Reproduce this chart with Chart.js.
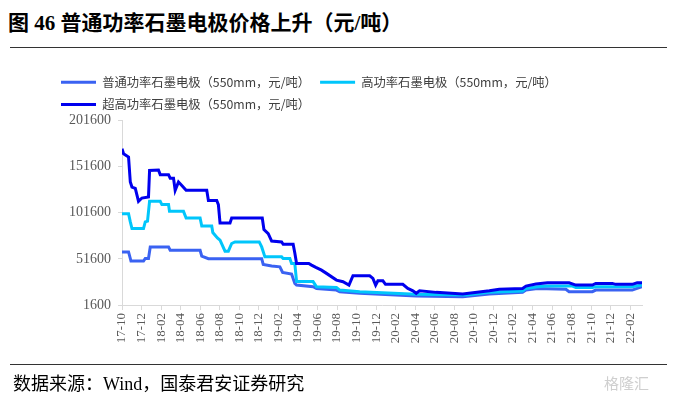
<!DOCTYPE html>
<html>
<head>
<meta charset="utf-8">
<script src="https://cdn.jsdelivr.net/npm/chart.js@4.4.1/dist/chart.umd.min.js"></script>
<style>
  body { margin: 0; background: #fff; }
  #wrap { position: relative; width: 673px; height: 398px; overflow: hidden; font-family: "Liberation Serif", "Noto Sans CJK SC", serif; }
  #title { position: absolute; left: 8px; top: 6px; font-size: 21px; font-weight: bold; color: #000; white-space: nowrap; }
  .rule { position: absolute; left: 10px; width: 657px; height: 1px; background: #333; }
  #source { position: absolute; left: 13px; top: 369px; font-size: 18px; color: #000; white-space: nowrap; }
  #mark { position: absolute; left: 604px; top: 372px; font-size: 15px; color: #cfcfcf; font-family: "Noto Sans CJK SC"; }
  canvas { position: absolute; left: 0; top: 0; }
</style>
</head>
<body>
<div id="wrap">
  <div id="title">图 46 普通功率石墨电极价格上升（元/吨）</div>
  <div class="rule" style="top:47px"></div>
  <canvas id="chart" width="673" height="398"></canvas>
  <div class="rule" style="top:364px"></div>
  <div id="source">数据来源：Wind，国泰君安证券研究</div>
  <div id="mark">格隆汇</div>
</div>
<script>
/* ---------- DATA (x = months since 2017-10) ---------- */
const seriesNames = [
  '普通功率石墨电极（550mm，元/吨）',
  '高功率石墨电极（550mm，元/吨）',
  '超高功率石墨电极（550mm，元/吨）'
];

const ordinaryMonths = [0, 0.67, 0.92, 2.2, 2.38, 2.71, 2.89, 4.76, 4.93, 7.99, 8.16, 8.84, 14.29, 14.45, 15.31, 16.15, 16.43, 17.35, 17.68, 17.86, 19.55, 19.9, 21.94, 22.28, 24.32, 30.1, 34.86, 37.58, 40.98, 41.33, 42.51, 45.41, 45.74, 48.12, 48.47, 52.2, 53.2];
const ordinaryPrices = [59200, 59200, 49200, 49200, 52100, 52100, 64600, 64600, 61000, 61000, 54600, 51800, 51800, 45600, 43800, 43000, 37000, 35100, 25000, 23200, 21400, 19600, 17800, 16000, 14300, 11300, 10600, 13500, 15300, 17800, 19600, 18600, 16000, 16000, 17800, 17800, 21400];

const highMonths = [0, 0.67, 0.85, 1.02, 2.2, 2.38, 2.61, 2.82, 3.91, 4.08, 4.76, 4.86, 6.29, 6.56, 7.99, 8.16, 9.18, 9.29, 9.76, 10.03, 10.54, 10.88, 11.22, 11.56, 14.04, 14.29, 14.62, 16.33, 16.49, 17.17, 17.35, 17.68, 17.86, 19.55, 19.9, 21.94, 22.28, 24.32, 30.1, 35.2, 37.58, 40.98, 41.33, 42.51, 43.53, 46.08, 46.43, 48.12, 48.47, 52.2, 53.2];
const highPrices = [100700, 100700, 91700, 84500, 84500, 91700, 92500, 114000, 114000, 110500, 110500, 103200, 103200, 96000, 96000, 87300, 87300, 80200, 74400, 71900, 60000, 60000, 68300, 70000, 70000, 64600, 53800, 53800, 52000, 52000, 46500, 46500, 27000, 27000, 21400, 20700, 17800, 16000, 13200, 12400, 15300, 16700, 19600, 21400, 22100, 22100, 20700, 20700, 21400, 21400, 23200];

const ultraMonths = [0, 0.16, 0.67, 0.85, 1.02, 1.36, 1.69, 2.04, 2.71, 2.82, 3.73, 3.91, 4.76, 4.93, 5.27, 5.44, 5.78, 6.12, 6.56, 8.67, 8.84, 9.69, 9.86, 10.03, 11.05, 11.22, 14.35, 14.52, 14.96, 15.31, 16.33, 16.49, 17.51, 17.68, 17.86, 19.11, 19.39, 19.83, 20.41, 20.92, 21.94, 22.61, 23.22, 23.63, 25.34, 25.67, 25.95, 26.18, 26.69, 26.96, 28.73, 29.24, 29.76, 30.1, 30.44, 32.14, 34.86, 37.58, 38.6, 40.98, 41.33, 42.35, 43.53, 45.74, 46.43, 48.12, 48.47, 50.16, 50.51, 52.2, 52.71, 53.2];
const ultraPrices = [171000, 165600, 162000, 135000, 129500, 128000, 114000, 117600, 118700, 147600, 148000, 143000, 143000, 139200, 139200, 126000, 135000, 131300, 126000, 126000, 115000, 115000, 110500, 90600, 90600, 96000, 96000, 83400, 79000, 71000, 70000, 67500, 67500, 58000, 46700, 46700, 44900, 42400, 39400, 35900, 28600, 26800, 23200, 33300, 33300, 30500, 23200, 27900, 27900, 24000, 24000, 19600, 17000, 14300, 17000, 15300, 13500, 17000, 18600, 19600, 22100, 24300, 25700, 25700, 23200, 23200, 25000, 25000, 24000, 24000, 25700, 25700];

const yTicks = [1600, 51600, 101600, 151600, 201600];

/* ---------- HELPERS ---------- */
function toPoints(months, prices) {
  return months.map((m, i) => ({ x: m, y: prices[i] }));
}

// 0 -> "17-10", 2 -> "17-12", ...
function monthLabel(m) {
  const t = 9 + Math.round(m);
  const yy = 17 + Math.floor(t / 12);
  const mm = (t % 12) + 1;
  return yy + '-' + String(mm).padStart(2, '0');
}

/* ---------- CHART ---------- */
const colors = ['#3a62f2', '#00c6fb', '#0000ee'];
const lineData = [
  toPoints(ordinaryMonths, ordinaryPrices),
  toPoints(highMonths, highPrices),
  toPoints(ultraMonths, ultraPrices)
];

const axisColor = '#d9d9d9';
const tickFont = { family: 'Liberation Serif', size: 13 };

new Chart(document.getElementById('chart'), {
  type: 'line',
  data: {
    datasets: lineData.map((pts, i) => ({
      label: seriesNames[i],
      data: pts,
      borderColor: colors[i],
      backgroundColor: colors[i],
      borderWidth: 3,
      pointRadius: 0,
      tension: 0,
      order: 3 - i
    }))
  },
  options: {
    responsive: false,
    animation: false,
    layout: { padding: { left: 51, right: 31, top: 66, bottom: 48 } },
    plugins: {
      tooltip: { enabled: false },
      legend: {
        position: 'top',
        align: 'start',
        labels: {
          boxWidth: 35,
          boxHeight: 3,
          padding: 10,
          color: '#404040',
          font: { family: 'Noto Sans CJK SC', size: 12.3 },
          generateLabels: chart => chart.data.datasets.map((ds, i) => ({
            text: ds.label,
            fillStyle: ds.borderColor,
            strokeStyle: ds.borderColor,
            lineWidth: 0,
            fontColor: '#404040',
            hidden: false,
            datasetIndex: i
          }))
        }
      }
    },
    scales: {
      x: {
        type: 'linear',
        min: 0,
        max: 53.2,
        border: { display: true, color: axisColor, width: 1 },
        grid: { drawOnChartArea: false, drawTicks: true, tickLength: 5, tickColor: axisColor },
        ticks: {
          stepSize: 2,
          includeBounds: false,
          autoSkip: false,
          minRotation: 90,
          maxRotation: 90,
          padding: 3,
          color: '#595959',
          font: tickFont,
          callback: v => monthLabel(v)
        },
        afterFit: s => { s.height = 45; }
      },
      y: {
        min: yTicks[0],
        max: yTicks[yTicks.length - 1],
        border: { display: true, color: axisColor, width: 1 },
        grid: { drawOnChartArea: false, drawTicks: true, tickLength: 4, tickColor: axisColor },
        ticks: {
          stepSize: yTicks[1] - yTicks[0],
          color: '#595959',
          padding: 7,
          font: { family: 'Liberation Serif', size: 14 },
          callback: v => String(v)
        },
        afterFit: s => { s.width = 71; }
      }
    }
  }
});
</script>
</body>
</html>
